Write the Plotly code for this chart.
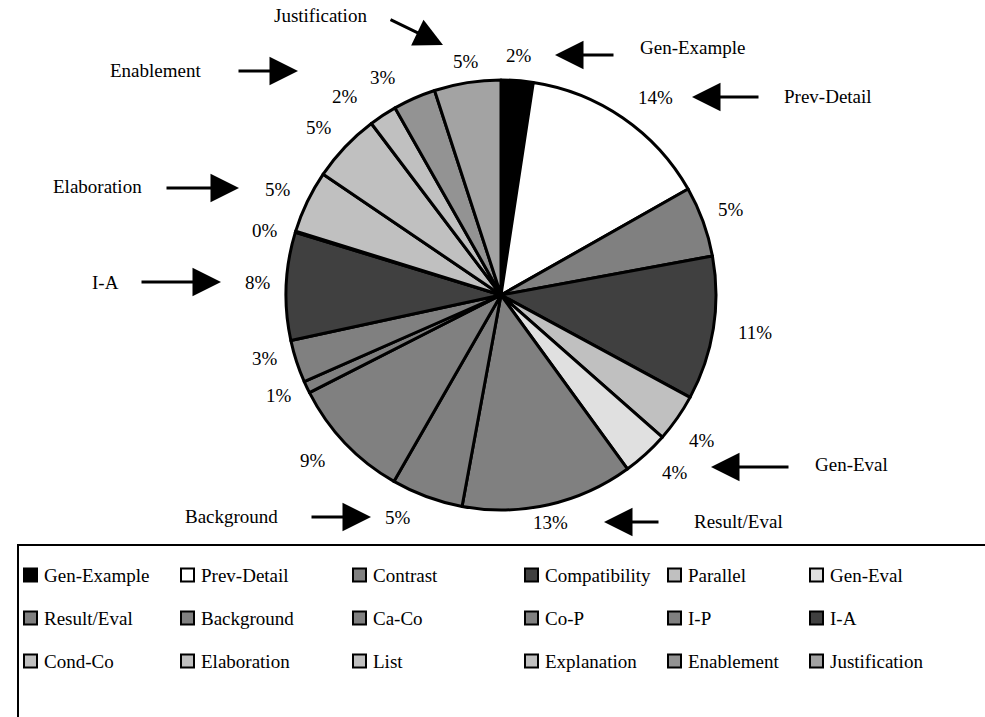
import math
import plotly.graph_objects as go

# Share of each relation type (percent), clockwise from 12 o'clock
labels = ["Gen-Example", "Prev-Detail", "Contrast", "Compatibility", "Parallel", "Gen-Eval",
          "Result/Eval", "Background", "Ca-Co", "Co-P", "I-P", "I-A",
          "Cond-Co", "Elaboration", "List", "Explanation", "Enablement", "Justification"]
values = [2.4, 14.4, 5.3, 10.8, 3.6, 3.5,
          12.9, 5.4, 9.2, 0.9, 3.2, 8.1,
          0.1, 4.7, 5.2, 2.1, 3.2, 5.0]
colors = ["#000000", "#FFFFFF", "#808080", "#404040", "#C0C0C0", "#E0E0E0",
          "#808080", "#808080", "#808080", "#808080", "#808080", "#404040",
          "#C0C0C0", "#C0C0C0", "#C0C0C0", "#C0C0C0", "#939393", "#A3A3A3"]

# Categories called out with an arrow
callouts = ["Justification", "Enablement", "Elaboration", "I-A", "Gen-Example",
            "Prev-Detail", "Gen-Eval", "Result/Eval", "Background"]

W, H = 985, 717
CX, CY, R = 501, 295, 215          # pie centre and radius in pixels
FONT = "Liberation Serif"


def px(x):
    return x / W


def py(y):
    return 1 - y / H


fig = go.Figure(go.Pie(
    labels=labels,
    values=values,
    sort=False,
    direction="clockwise",
    rotation=0,
    marker=dict(colors=colors, line=dict(color="#000000", width=3)),
    textinfo="none",
    hoverinfo="label+percent",
    domain=dict(x=[px(CX - R), px(CX + R)], y=[py(CY + R), py(CY - R)]),
    showlegend=False,
))

annotations = []
shapes = []

# Percentage labels just outside each slice, placed from the slice mid-angle
label_radius = 240
label_nudge = [(0, 0), (18, 0), (4, -3), (17, 0), (4, 8), (12, 0),
               (-4, -7), (-20, -3), (-14, 0), (-5, -2), (-8, -11), (-3, -3),
               (-7, 6), (-7, -1), (-8, -2), (-24, 2), (-21, 2), (3, 4)]
total = sum(values)
cum = 0.0
for v, (dx, dy) in zip(values, label_nudge):
    mid = (cum + v / 2) / total * 2 * math.pi
    cum += v
    lx = CX + label_radius * math.sin(mid) + dx
    ly = CY - label_radius * math.cos(mid) + dy
    annotations.append(dict(
        x=px(lx), y=py(ly), xref="paper", yref="paper",
        text=f"{round(v / total * 100)}%", showarrow=False,
        font=dict(family=FONT, size=19, color="#000000"),
        xanchor="center", yanchor="middle",
    ))

# Callout names with arrows: (text centre, arrow tail, arrow tip)
callout_geom = [
    ((320, 15), (389, 19), (443, 45)),
    ((155, 71), (237, 71), (298, 71)),
    ((97, 186), (165, 188), (239, 188)),
    ((105, 282), (140, 282), (221, 282)),
    ((693, 47), (615, 55), (555, 55)),
    ((828, 97), (760, 97), (692, 97)),
    ((851, 464), (790, 467), (711, 467)),
    ((738, 521), (660, 522), (604, 522)),
    ((231, 516), (310, 517), (371, 517)),
]
for name, (tc, tail, tip) in zip(callouts, callout_geom):
    annotations.append(dict(
        x=px(tc[0]), y=py(tc[1]), xref="paper", yref="paper",
        text=name, showarrow=False,
        font=dict(family=FONT, size=19, color="#000000"),
        xanchor="center", yanchor="middle",
    ))
    annotations.append(dict(
        x=px(tip[0]), y=py(tip[1]), xref="paper", yref="paper",
        ax=tail[0] - tip[0], ay=tail[1] - tip[1], axref="pixel", ayref="pixel",
        text="", showarrow=True, arrowhead=2, arrowsize=1.9, arrowwidth=3,
        arrowcolor="#000000", standoff=0, startstandoff=0,
    ))

# Legend box: 6 columns x 3 rows of swatches
legend_cols = [24, 181, 353, 525, 668, 810]
legend_rows = [575, 618, 661]
box_top, box_left = 545, 18
shapes.append(dict(type="rect", xref="paper", yref="paper",
                   x0=px(box_left), x1=px(W + 20), y0=py(H + 20), y1=py(box_top),
                   line=dict(color="#000000", width=2), fillcolor="rgba(0,0,0,0)"))
sw = 13
for i, (name, col) in enumerate(zip(labels, colors)):
    lx = legend_cols[i % 6]
    ly = legend_rows[i // 6]
    shapes.append(dict(type="rect", xref="paper", yref="paper",
                       x0=px(lx), x1=px(lx + sw), y0=py(ly + sw / 2), y1=py(ly - sw / 2),
                       line=dict(color="#000000", width=2), fillcolor=col))
    annotations.append(dict(
        x=px(lx + sw + 5), y=py(ly), xref="paper", yref="paper",
        text=name, showarrow=False,
        font=dict(family=FONT, size=19, color="#000000"),
        xanchor="left", yanchor="middle",
    ))

fig.update_layout(
    width=W, height=H,
    margin=dict(l=0, r=0, t=0, b=0),
    paper_bgcolor="#FFFFFF", plot_bgcolor="#FFFFFF",
    font=dict(family=FONT),
    annotations=annotations, shapes=shapes,
    showlegend=False,
)

fig.write_html("out.html")
